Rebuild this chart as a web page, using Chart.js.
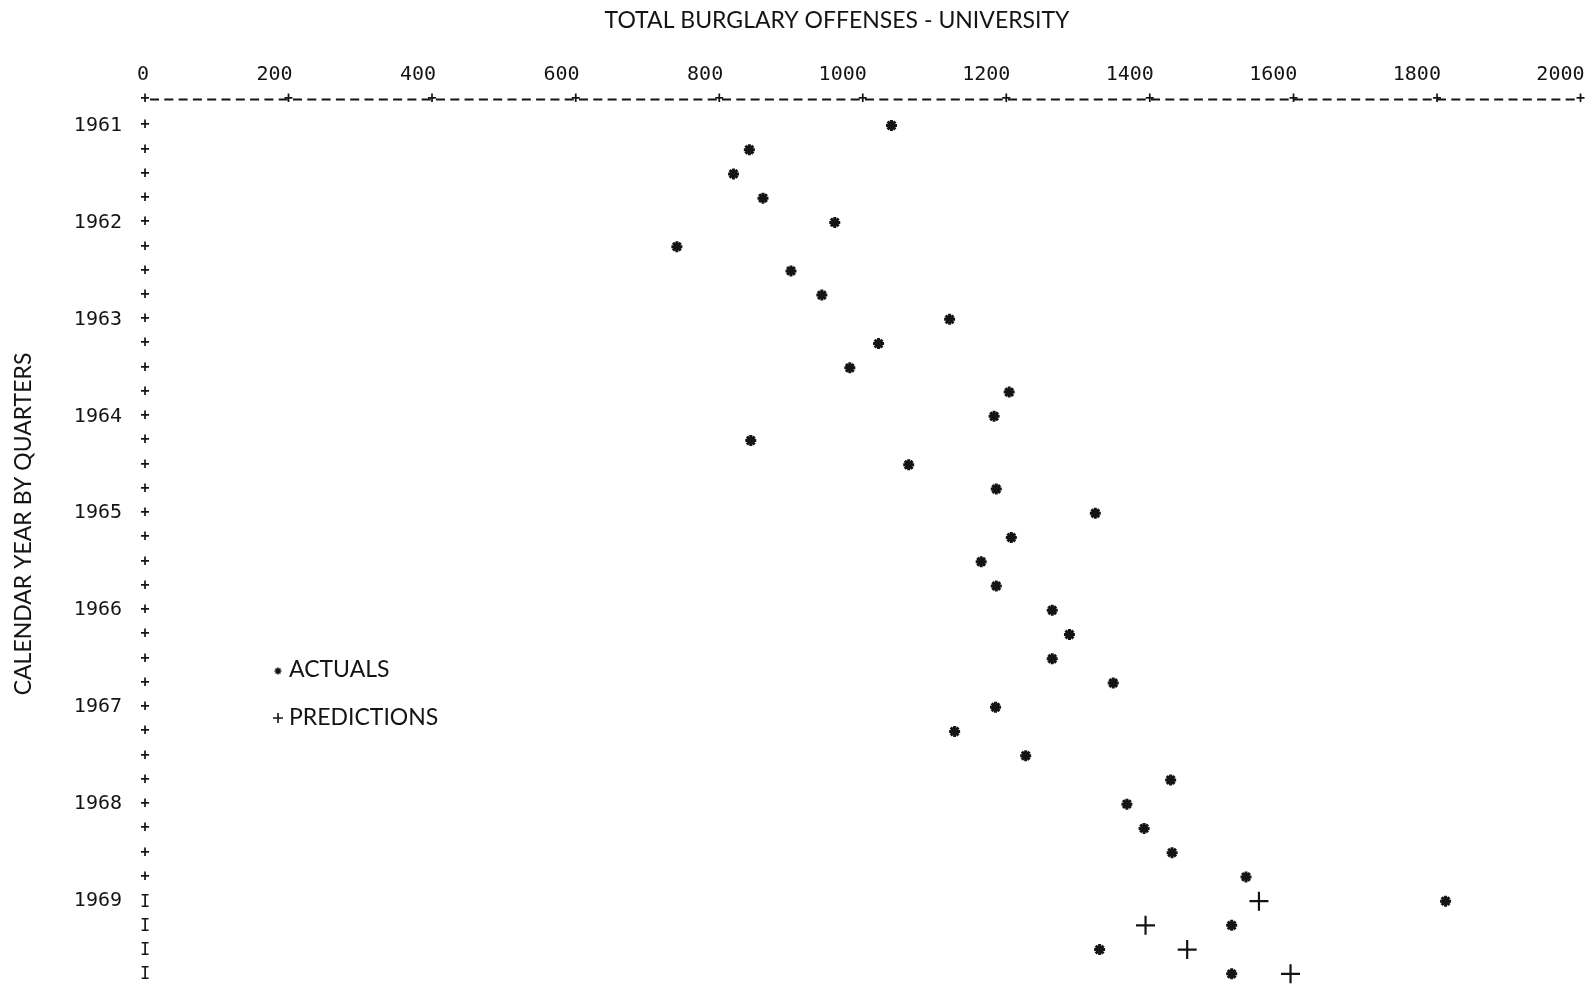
<!DOCTYPE html>
<html>
<head>
<meta charset="utf-8">
<script src="https://cdn.jsdelivr.net/npm/chart.js@4/dist/chart.umd.min.js"></script>
<style>
  html, body { margin: 0; padding: 0; background: #ffffff; }
  #wrap { width: 1595px; height: 991px; position: relative; }
</style>
</head>
<body>
<div id="wrap"><canvas id="c" width="1595" height="991"></canvas></div>
<script>
// ---------- data ----------
const chartTitle = 'TOTAL BURGLARY OFFENSES - UNIVERSITY';
const yAxisTitle = 'CALENDAR YEAR BY QUARTERS';
const years = [1961, 1962, 1963, 1964, 1965, 1966, 1967, 1968, 1969];
const quartersPerYear = 4;
const xTickValues = [0, 200, 400, 600, 800, 1000, 1200, 1400, 1600, 1800, 2000];
// one value per quarter, 1961 Q1 .. 1969 Q4
const actuals = [
  1040, 842, 820, 861,
  961, 741, 900, 943,
  1121, 1022, 982, 1204,
  1183, 844, 1064, 1186,
  1324, 1207, 1165, 1186,
  1264, 1288, 1264, 1349,
  1185, 1128, 1227, 1429,
  1368, 1392, 1431, 1534,
  1812, 1514, 1330, 1514
];
// predictions exist only for the 1969 quarters
const predictionQuarterIndex = [32, 33, 34, 35];
const predictions = [1552, 1394, 1452, 1596];
const legendLabels = ['ACTUALS', 'PREDICTIONS'];

// ---------- derived ----------
const rowCount = years.length * quartersPerYear;
const rowLabels = [];
for (let i = 0; i < rowCount; i++) {
  rowLabels.push(i % quartersPerYear === 0 ? String(years[i / quartersPerYear]) : '');
}
const actualPoints = actuals.map((v, i) => ({ x: v, y: i }));
const predictionPoints = predictions.map((v, i) => ({ x: v, y: predictionQuarterIndex[i] }));
const firstPredictionRow = predictionQuarterIndex[0];

const INK = '#141414';
const MONO = '"DejaVu Sans Mono", "Liberation Mono", monospace';
const SANS = 'Lato, "Noto Sans", sans-serif';

// ---------- plugin: printer-style decorations, titles, legend ----------
const printerDecor = {
  id: 'printerDecor',
  afterDraw(chart) {
    const ctx = chart.ctx;
    const xs = chart.scales.x, ys = chart.scales.y;
    const area = chart.chartArea;
    ctx.save();
    ctx.fillStyle = INK;
    ctx.strokeStyle = INK;

    // dashed top axis line
    const xa = xs.getPixelForValue(xTickValues[0]);
    const xb = xs.getPixelForValue(xTickValues[xTickValues.length - 1]);
    ctx.save();
    ctx.lineWidth = 1.8;
    ctx.setLineDash([9, 5.3]);
    ctx.lineDashOffset = -5;
    ctx.beginPath();
    ctx.moveTo(xa, area.top);
    ctx.lineTo(xb, area.top);
    ctx.stroke();
    ctx.restore();

    ctx.textAlign = 'center';
    ctx.textBaseline = 'middle';
    // '+' marks on the top axis at every tick
    ctx.font = 'bold 15px ' + MONO;
    xs.ticks.forEach(t => {
      ctx.fillText('+', xs.getPixelForValue(t.value), area.top);
    });
    // '+' / 'I' column on the left axis, one per quarter
    const x0 = xs.getPixelForValue(0);
    for (let i = 0; i < rowCount; i++) {
      if (i >= firstPredictionRow) {
        ctx.font = '17px ' + MONO;
        ctx.fillText('I', x0, ys.getPixelForValue(i) + 1);
      } else {
        ctx.font = 'bold 15px ' + MONO;
        ctx.fillText('+', x0, ys.getPixelForValue(i));
      }
    }

    // chart title
    ctx.font = '23px ' + SANS;
    ctx.fillText(chartTitle, 837, 21);

    // y axis title
    ctx.save();
    ctx.translate(24, 524);
    ctx.rotate(-Math.PI / 2);
    ctx.fillText(yAxisTitle, 0, 0);
    ctx.restore();

    // legend
    const ds = chart.data.datasets;
    const legendRows = [670, 718];
    ds.forEach((d, k) => {
      const sym = {
        pointStyle: d.pointStyle,
        radius: k === 0 ? 3.5 : 5,
        borderWidth: 1.6,
        rotation: 0
      };
      ctx.strokeStyle = INK;
      ctx.fillStyle = INK;
      ctx.lineWidth = 1.6;
      if (Chart.helpers && Chart.helpers.drawPoint) {
        Chart.helpers.drawPoint(ctx, sym, 278, legendRows[k] + (k === 0 ? 1 : 0));
      }
      ctx.fillStyle = INK;
      ctx.textAlign = 'left';
      ctx.font = '23px ' + SANS;
      ctx.fillText(legendLabels[k], 289, legendRows[k]);
    });
    ctx.restore();
  }
};

new Chart(document.getElementById('c'), {
  type: 'scatter',
  data: {
    datasets: [
      {
        label: legendLabels[0],
        data: actualPoints,
        pointStyle: 'star',
        pointRadius: 5.5,
        pointBorderWidth: 3,
        borderColor: INK,
        backgroundColor: INK,
        showLine: false
      },
      {
        label: legendLabels[1],
        data: predictionPoints,
        pointStyle: 'cross',
        pointRadius: 9.5,
        pointBorderWidth: 2.2,
        borderColor: INK,
        backgroundColor: INK,
        showLine: false
      }
    ]
  },
  options: {
    responsive: false,
    animation: false,
    layout: { autoPadding: false, padding: { left: 0, right: 14.5, top: 0, bottom: 2.6 } },
    plugins: {
      legend: { display: false },
      tooltip: { enabled: false },
      title: { display: false }
    },
    scales: {
      x: {
        type: 'linear',
        position: 'top',
        min: xTickValues[0],
        max: xTickValues[xTickValues.length - 1],
        afterBuildTicks: s => { s.ticks = xTickValues.map(v => ({ value: v })); },
        afterFit: s => { s.height = 99.5; s.paddingLeft = 0; s.paddingRight = 0; },
        grid: { display: false, drawTicks: false },
        border: { display: false },
        ticks: {
          align: 'end',
          labelOffset: 4,
          padding: 13,
          autoSkip: false,
          maxRotation: 0,
          color: INK,
          font: { family: MONO, size: 20 },
          callback: v => String(v)
        }
      },
      y: {
        type: 'linear',
        reverse: true,
        min: -1.07,
        max: 35.6,
        afterBuildTicks: s => { s.ticks = rowLabels.map((_, i) => ({ value: i })); },
        afterFit: s => { s.width = 145; s.paddingTop = 0; s.paddingBottom = 0; },
        grid: { display: false, drawTicks: false },
        border: { display: false },
        ticks: {
          autoSkip: false,
          padding: 23,
          color: INK,
          font: { family: MONO, size: 20 },
          callback: (v) => rowLabels[v] || ''
        }
      }
    }
  },
  plugins: [printerDecor]
});
</script>
</body>
</html>
